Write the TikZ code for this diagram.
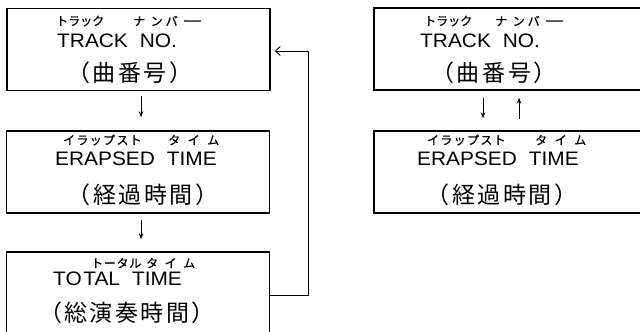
\documentclass[tikz,border=0pt]{standalone}
\usepackage{fontspec}
\setmainfont{Liberation Sans}
\newfontfamily\jpfont{Noto Sans CJK JP}
\newfontfamily\rubyfont[FakeBold=0.8]{Noto Sans CJK JP}
\newfontfamily\enfont[FakeStretch=1.07]{Liberation Sans}
\newcommand\js{\kern2.5pt}
\newcommand\longbar{\scalebox{1.7}[1]{ー}}
\usetikzlibrary{arrows.meta,calc}
\begin{document}
\begin{tikzpicture}[x=1pt,y=-1pt,
  box/.style={draw,line width=1.4pt,rectangle,inner sep=0pt,minimum width=263pt,minimum height=82pt},
  rbox/.style={box,minimum width=290pt},
  ruby/.style={anchor=west,inner sep=0pt,font=\rubyfont\fontsize{12}{12}\selectfont},
  en/.style={anchor=base west,inner sep=0pt,font=\enfont\fontsize{19.5}{20}\selectfont},
  jp/.style={inner sep=0pt,font=\jpfont\fontsize{23}{23}\selectfont},
  dn/.style={line width=0.9pt,-{Stealth[length=6pt,width=4.5pt]}},
  fb/.style={line width=0.9pt,-{Straight Barb[length=5pt,width=9pt]}}]
\useasboundingbox (0,0) rectangle (640,332);
\clip (0,0) rectangle (640,332);
% left column
\node[box] (L1) at (138.5,49.5) {};
\node[box] (L2) at (138,172) {};
\node[box,minimum height=83pt] (L3) at (138,293.5) {};
\node[ruby] (L1ra) at (56,21) {トラック};
\node[ruby] (L1rb) at (133,21) {ナ\kern5.5pt ン\kern3pt バ\kern4.5pt\longbar};
\node[en] (L1e) at (57,47) {TRACK\hspace{12pt}NO.};
\node[jp] (L1j) at (130,73) {（\js 曲\js 番\js 号\js ）};
\node[ruby] (L2ra) at (63,140) {イ\kern1.3pt ラ\kern1.3pt ッ\kern1.3pt プ\kern1.3pt ス\kern1.3pt ト};
\node[ruby] (L2rb) at (168,140) {タ\kern7.5pt イ\kern7.5pt ム};
\node[en] (L2e) at (55,165) {ERAPSED\hspace{12pt}TIME};
\node[jp] (L2j) at (143,195) {（\js 経\js 過\js 時\js 間\js ）};
\node[ruby] (L3ra) at (91,263) {ト\kern0.7pt ー\kern0.7pt タ\kern0.7pt ル};
\node[ruby] (L3rb) at (146,263) {タ\kern6.5pt イ\kern6.5pt ム};
\node[en] (L3e) at (53,285) {TO\kern1.5pt TAL\hspace{12pt}TIME};
\node[jp] (L3j) at (127,313) {（\js 総\js 演\js 奏\js 時\js 間\js ）};
% right column
\node[rbox] (R1) at (519,49) {};
\node[rbox] (R2) at (519,172) {};
\node[ruby] (R1ra) at (424,21) {トラック};
\node[ruby] (R1rb) at (495,21) {ナ\kern5.5pt ン\kern3pt バ\kern4.5pt\longbar};
\node[en] (R1e) at (420,47) {TRACK\hspace{12pt}NO.};
\node[jp] (R1j) at (494,73) {（\js 曲\js 番\js 号\js ）};
\node[ruby] (R2ra) at (427,140) {イ\kern1.3pt ラ\kern1.3pt ッ\kern1.3pt プ\kern1.3pt ス\kern1.3pt ト};
\node[ruby] (R2rb) at (535,140) {タ\kern7.5pt イ\kern7.5pt ム};
\node[en] (R2e) at (417,165) {ERAPSED\hspace{12pt}TIME};
\node[jp] (R2j) at (502,195) {（\js 経\js 過\js 時\js 間\js ）};
% connectors
\draw[dn] ($(L1.south)+(2.5,5)$) -- ($(L2.north)+(3,-13)$);
\draw[dn] ($(L2.south)+(3,6)$) -- ($(L3.north)+(3,-12)$);
\draw[dn] ($(R1.south)+(-36,7)$) -- ($(R2.north)+(-36,-12)$);
\draw[dn] ($(R2.north)+(0,-11)$) -- ($(R1.south)+(0,7)$);
\coordinate (fbc) at ($(L1.east)+(38,1.5)$);
\draw[fb] ($(L3.east)+(0,1.5)$) -| (fbc) -- ($(L1.east)+(4,1.5)$);
\end{tikzpicture}
\end{document}
